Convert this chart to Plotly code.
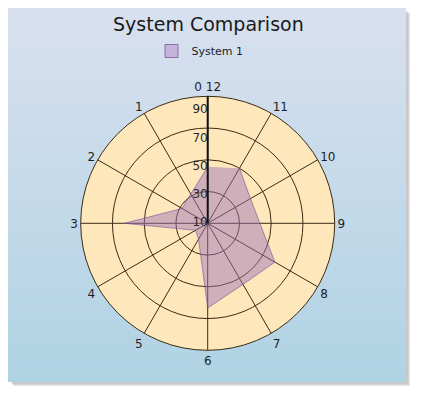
import plotly.graph_objects as go

categories = ["0 12", "1", "2", "3", "4", "5", "6", "7", "8", "9", "10", "11"]
values = [50, 34, 31, 69, 20, 23, 70, 60, 65, 47, 45, 55]
radial_labels = [10, 30, 50, 70, 90]
radial_grid = [32.5, 55, 77.5, 100]
series_name = "System 1"

W, H = 421, 397

def px(x):
    return x / W

def py(y):
    return 1 - y / H

shapes = []
# drop shadow
for i, a in enumerate([0.08, 0.10, 0.13]):
    o = 2 + i
    shapes.append(dict(type="rect", xref="paper", yref="paper",
                       x0=px(8 + o + 1), x1=px(406 + o), y0=py(8 + o + 1), y1=py(382 + o),
                       fillcolor=f"rgba(60,60,70,{a})", line=dict(width=0), layer="below"))
# gradient panel
top = (216, 224, 239)
bot = (176, 211, 228)
n = 60
y0p, y1p = 8, 382
for i in range(n):
    t = i / (n - 1)
    c = tuple(int(round(top[k] + (bot[k] - top[k]) * t)) for k in range(3))
    ya = y0p + (y1p - y0p) * i / n
    yb = y0p + (y1p - y0p) * (i + 1) / n + 0.6
    shapes.append(dict(type="rect", xref="paper", yref="paper",
                       x0=px(8), x1=px(406), y0=py(ya), y1=py(min(yb, y1p)),
                       fillcolor=f"rgb{c}", line=dict(width=0), layer="below"))

fig = go.Figure()
fig.add_trace(go.Scatterpolar(
    r=values, theta=categories, mode="lines", fill="toself",
    fillcolor="rgba(155,112,185,0.47)",
    line=dict(color="rgba(120,80,150,0.6)", width=1),
    showlegend=False, hoverinfo="skip"))
fig.add_trace(go.Scatterpolar(
    r=radial_labels, theta=[categories[0]] * len(radial_labels), mode="text",
    text=[str(v) for v in radial_labels], textposition="middle left",
    textfont=dict(family="DejaVu Sans", size=12, color="#2a2a2a"),
    showlegend=False, hoverinfo="skip"))
fig.add_trace(go.Scatterpolar(
    r=[None], theta=[None], mode="markers", name=series_name,
    marker=dict(symbol="square", size=13, color="#c6b3dc",
                line=dict(color="#8a6ea8", width=1))))

cx, cy, R = 207.7, 223.3, 127
fig.update_layout(
    width=W, height=H,
    margin=dict(l=0, r=0, t=0, b=0),
    paper_bgcolor="white",
    shapes=shapes,
    title=dict(text="System Comparison", x=0.495, xanchor="center",
               y=py(24), yanchor="middle",
               font=dict(family="DejaVu Sans", size=19, color="#1a1a1a")),
    legend=dict(orientation="h", x=px(200), xanchor="center", y=py(51), yanchor="middle",
                bgcolor="rgba(0,0,0,0)", font=dict(family="DejaVu Sans", size=11, color="#222"),
                itemwidth=30),
    polar=dict(
        domain=dict(x=[px(cx - R), px(cx + R)], y=[py(cy + R), py(cy - R)]),
        bgcolor="#fde7bb",
        radialaxis=dict(range=[10, 100], tickvals=radial_grid, showticklabels=False,
                        ticks="", showline=True, linecolor="#111", linewidth=2,
                        angle=90, gridcolor="#3a2c14", gridwidth=1),
        angularaxis=dict(direction="counterclockwise", rotation=90, type="category",
                         categoryarray=categories, ticks="", showline=True,
                         linecolor="#3a2c14", linewidth=1, gridcolor="#3a2c14", gridwidth=1,
                         tickfont=dict(family="DejaVu Sans", size=12, color="#1f1f1f")),
    ),
)
fig.write_html("out.html")
